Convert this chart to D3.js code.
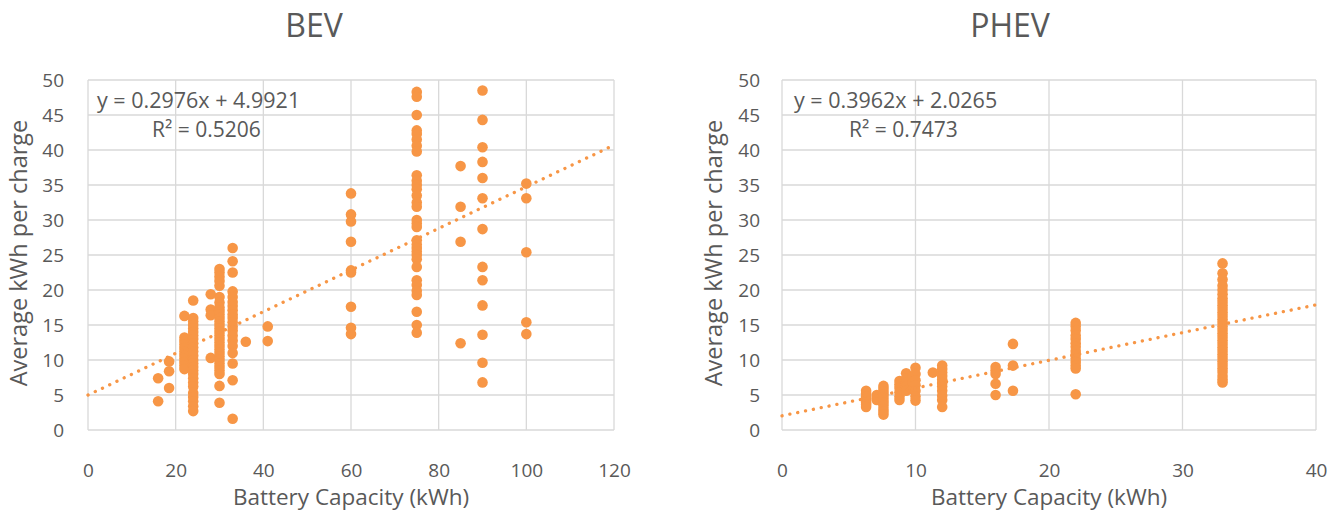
<!DOCTYPE html>
<html><head><meta charset="utf-8">
<script src="https://cdn.jsdelivr.net/npm/d3@7"></script>
<style>body{margin:0;background:#fff}svg{display:block}text{font-family:"Open Sans",sans-serif;fill:#595959}</style>
</head><body><svg id="c" width="1343" height="513"></svg>
<script>
// ---- data ----
const bevX = [16,16, 18.5,18.5,18.5,
 22,22,22,22,22,22,22,22,22,22,22,
 24,24,24,24,24,24,24,24,24,24,24,24,24,24,24,24,24,24,24,24,24,24,24,24,24,
 28,28,28,28,
 30,30,30,30,30,30,30,30,30,30,30,30,30,30,30,30,30,30,30,30,30,30,30,30,30,30,30,30,30,
 33,33,33,33,33,33,33,33,33,33,33,33,33,33,33,33,33,33,33,33,
 36, 41,41,
 60,60,60,60,60,60,60,60,60,
 75,75,75,75,75,75,75,75,75,75,75,75,75,75,75,75,75,75,75,75,75,75,75,75,75,75,75,75,75,75,75,75,
 85,85,85,85,
 90,90,90,90,90,90,90,90,90,90,90,90,90,
 100,100,100,100,100];
const bevY = [7.4,4.1, 9.8,8.4,6.0,
 16.3,13.2,12.7,12.2,11.7,11.2,10.7,10.2,9.7,9.2,8.7,
 18.5,16.0,15.5,15.0,14.5,14.0,13.5,13.0,12.4,11.8,11.2,10.6,10.0,9.5,9.0,8.5,8.0,7.4,6.8,6.2,5.3,4.7,4.1,3.4,2.7,
 19.4,17.2,16.4,10.3,
 23.0,22.5,21.9,21.3,20.6,19.0,18.2,17.5,17.0,16.5,16.0,15.5,15.0,14.5,14.0,13.5,13.0,12.5,12.0,11.5,11.0,10.5,10.0,9.5,9.0,8.5,8.0,6.3,3.9,
 26.0,24.1,22.5,19.8,19.0,18.3,17.7,17.1,16.5,16.0,15.4,14.8,14.2,13.5,12.8,12.0,11.0,9.5,7.1,1.6,
 12.6, 14.8,12.7,
 33.8,30.8,29.8,26.9,22.8,22.5,17.6,14.6,13.7,
 48.3,47.6,45.0,42.8,42.3,41.5,40.6,39.8,36.4,35.6,35.0,34.4,33.5,32.5,31.9,30.0,29.5,29.0,27.1,26.5,26.0,25.5,25.0,24.4,23.3,21.4,20.7,19.9,19.3,16.9,15.0,13.9,
 37.7,31.9,26.9,12.4,
 48.5,44.3,40.4,38.3,36.0,33.1,28.7,23.3,21.4,17.8,13.6,9.6,6.8,
 35.2,33.1,25.4,15.4,13.7];

const phevX = [6.3,6.3,6.3,6.3,6.3,6.3,6.3,6.3,
 7.1,7.1,7.1,
 7.6,7.6,7.6,7.6,7.6,7.6,7.6,7.6,7.6,7.6,7.6,
 8.8,8.8,8.8,8.8,8.8,8.8,
 9.3,9.3,9.3,9.3,9.3,
 9.8,9.8,9.8,
 10,10,10,10,10,10,10,
 11.3,
 12,12,12,12,12,12,12,12,12,12,12,
 16,16,16,16,16,
 17.3,17.3,17.3,
 22,22,22,22,22,22,22,22,22,22,22,22,22,22,
 33,33,33,33,33,33,33,33,33,33,33,33,33,33,33,33,33,33,33,33,33,33,33,33,33,33,33,33,33,33,33];
const phevY = [5.6,5.2,4.8,4.5,4.2,3.9,3.6,3.3,
 5.0,4.6,4.3,
 6.3,5.9,5.5,5.1,4.7,4.3,3.9,3.5,3.0,2.6,2.2,
 7.0,6.5,6.0,5.4,4.8,4.3,
 8.1,7.4,6.8,6.2,5.6,
 7.6,6.8,5.8,
 8.9,8.0,7.1,6.4,5.6,4.8,4.2,
 8.2,
 9.2,8.7,8.2,7.7,7.2,6.7,6.2,5.6,4.9,4.3,3.3,
 9.0,8.5,8.0,6.6,5.0,
 12.3,9.2,5.6,
 15.3,14.8,14.2,13.5,13.0,12.4,11.9,11.3,10.8,10.2,9.7,9.2,8.8,5.1,
 23.8,22.4,21.5,20.6,20.0,19.4,18.8,18.3,17.8,17.3,16.8,16.3,15.8,15.3,14.8,14.3,13.8,13.3,12.8,12.3,11.8,11.3,10.8,10.3,9.8,9.3,8.8,8.3,7.7,7.2,6.8];

const bevXTicks = [0,20,40,60,80,100,120];
const phevXTicks = [0,10,20,30,40];
const yTicks = [0,5,10,15,20,25,30,35,40,45,50];
const bevFit = {slope:0.2976, intercept:4.9921, r2:"0.5206"};
const phevFit = {slope:0.3962, intercept:2.0265, r2:"0.7473"};
const titles = ["BEV","PHEV"];
const xTitle = "Battery Capacity (kWh)";
const yTitle = "Average kWh per charge";

// ---- drawing ----
const svg = d3.select("#c");
const col = "#F79646";
const grid = "#d9d9d9";

function panel(o){
  const x = d3.scaleLinear().domain([0, o.xmax]).range([o.left, o.right]);
  const y = d3.scaleLinear().domain([0, 50]).range([430, 80]);
  const g = svg.append("g");
  g.selectAll(".hg").data(yTicks).join("line")
    .attr("x1", o.left).attr("x2", o.right)
    .attr("y1", d=>y(d)).attr("y2", d=>y(d))
    .attr("stroke", grid).attr("stroke-width", 1.3);
  g.selectAll(".vg").data(o.xticks).join("line")
    .attr("y1", y(0)).attr("y2", y(50))
    .attr("x1", d=>x(d)).attr("x2", d=>x(d))
    .attr("stroke", grid).attr("stroke-width", 1.3);
  const ya = g.append("g").attr("transform", `translate(${o.left-o.ypad},0)`)
    .call(d3.axisLeft(y).tickValues(yTicks).tickSize(0).tickPadding(0));
  ya.select(".domain").remove();
  ya.selectAll("text").attr("font-size", 19).style("font-family","'Open Sans',sans-serif").attr("fill","#595959");
  const xa = g.append("g").attr("transform", `translate(0,${y(0)+33})`)
    .call(d3.axisBottom(x).tickValues(o.xticks).tickSize(0).tickPadding(0));
  xa.select(".domain").remove();
  xa.selectAll("text").attr("font-size", 19).style("font-family","'Open Sans',sans-serif").attr("fill","#595959");
  const pts = o.xs.map((v,i)=>[v, o.ys[i]]);
  g.selectAll("circle").data(pts).join("circle")
    .attr("cx", d=>x(d[0])).attr("cy", d=>y(d[1])).attr("r", 5.3).attr("fill", col);
  const line = d3.line().x(d=>x(d)).y(d=>y(o.fit.slope*d + o.fit.intercept));
  g.append("path").datum([0, o.xmax]).attr("d", line)
    .attr("fill","none").attr("stroke", col).attr("stroke-width", 3.3)
    .attr("stroke-linecap","round").attr("stroke-dasharray","0.1 7.9");
  g.append("text").attr("x", o.eqx).attr("y", 108).attr("font-size", 21.5)
    .text(`y = ${o.fit.slope}x + ${o.fit.intercept}`);
  g.append("text").attr("x", o.eqx + 55).attr("y", 137).attr("font-size", 21)
    .text(`R² = ${o.fit.r2}`);
  g.append("text").attr("x", o.tx).attr("y", 37).attr("text-anchor","middle")
    .attr("font-size", 32).text(o.title);
  g.append("text").attr("x", (o.left+o.right)/2).attr("y", 505).attr("text-anchor","middle")
    .attr("font-size", 22.5).text(xTitle);
  g.append("text").attr("transform", `translate(${o.ytx},253) rotate(-90)`).attr("text-anchor","middle")
    .attr("font-size", 23.5).text(yTitle);
}

panel({xs:bevX, ys:bevY, xmax:120, left:88, right:614, xticks:bevXTicks, fit:bevFit,
  eqx:97, tx:314, title:titles[0], ytx:27, ypad:24});
panel({xs:phevX, ys:phevY, xmax:40, left:782, right:1316, xticks:phevXTicks, fit:phevFit,
  eqx:794, tx:1010, title:titles[1], ytx:722, ypad:22});
</script></body></html>
